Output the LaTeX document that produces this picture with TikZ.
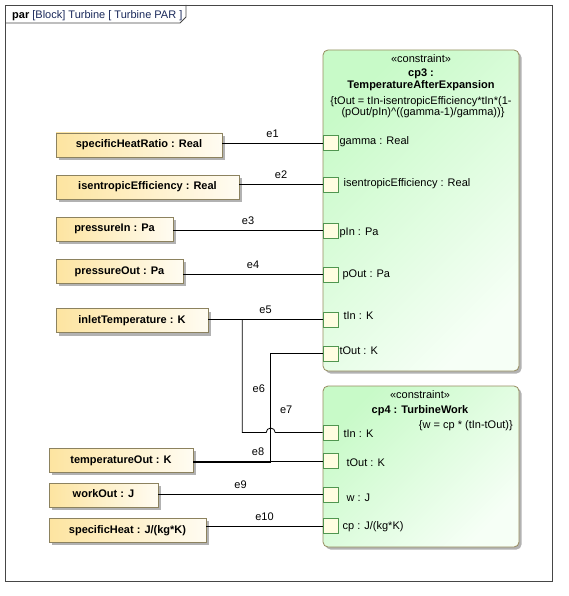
\documentclass[tikz,border=0pt]{standalone}
\usepackage{fontspec}
\setmainfont{Liberation Sans}
\usetikzlibrary{positioning,shadows,calc}

\definecolor{partfill}{RGB}{253,228,160}
\definecolor{partend}{RGB}{255,252,242}
\definecolor{partedge}{RGB}{140,130,95}
\definecolor{blockfill}{RGB}{200,250,200}
\definecolor{blockend}{RGB}{246,255,246}
\definecolor{blockedge}{RGB}{150,140,95}
\definecolor{portedge}{RGB}{80,150,80}
\definecolor{portfill}{RGB}{255,253,225}
\definecolor{framecol}{RGB}{70,70,70}
\definecolor{titlecol}{RGB}{25,40,90}

\tikzset{
  txt/.style={font=\fontsize{11}{12}\selectfont, inner sep=0pt},
  bold/.style={font=\fontsize{11}{12}\selectfont\bfseries, inner sep=0pt},
  partbox/.style={bold, draw=partedge, line width=0.8pt, left color=partfill, right color=partend,
    minimum height=24pt, text height=8pt, text depth=2.5pt,
    drop shadow={shadow xshift=3pt, shadow yshift=-3pt, fill=black!30, opacity=1}},
  cblock/.style={draw=blockedge, line width=0.8pt, rounded corners=5pt, left color=blockfill, right color=blockend,
    shading angle=45, drop shadow={shadow xshift=2.5pt, shadow yshift=-2.5pt, fill=black!30, opacity=1}},
  portbox/.style={draw=portedge, line width=0.8pt, fill=portfill, minimum size=15pt, inner sep=0pt},
  conn/.style={draw=black, line width=0.8pt}
}

\begin{document}
\begin{tikzpicture}[x=1pt, y=-1pt]
  \useasboundingbox (0,0) rectangle (568,596);
  % frame
  \draw[framecol, line width=0.8pt] (5,5) rectangle (552,581);
  \draw[framecol, line width=0.8pt] (5,23) -- (180,23) -- (186,17) -- (186,5);
  \node[txt, anchor=base west] (title) at (12,19) {\textbf{par} \textcolor{titlecol}{[Block] Turbine [ Turbine PAR ]}};

  % constraint blocks
  \node[cblock, minimum width=196pt, minimum height=321pt] (cpthree) at (421,210.5) {};
  \node[cblock, minimum width=196pt, minimum height=161pt] (cpfour) at (421,466.5) {};

  \node[txt, anchor=base] (stthree) at (421,62.5) {«constraint»};
  \node[bold, anchor=base] (namethree) at (421,77) {cp3 :};
  \node[bold, anchor=base] (typethree) at (421,88.5) {TemperatureAfterExpansion};
  \node[txt, anchor=base] (eqthree) at (421,104.5) {\{tOut = tIn-isentropicEfficiency*tIn*(1-};
  \node[txt, anchor=base] (eqthreeb) at (423,115.5) {(pOut/pIn)\^{}((gamma-1)/gamma))\}};

  \node[txt, anchor=base] (stfour) at (420,398) {«constraint»};
  \node[bold, anchor=base] (namefour) at (420,413.5) {cp4 : TurbineWork};
  \node[txt, anchor=base east] (eqfour) at (513,428.5) {\{w = cp * (tIn-tOut)\}};

  % ports
  \foreach \n/\y in {pgamma/143, peff/184.5, ppin/230.5, ppout/274.5, ptin/319.5, ptout/353.5,
                     qtin/432.5, qtout/461, qw/494.5, qcp/526}
    \node[portbox] (\n) at (330.5,\y) {};

  \foreach \p/\dx/\dy/\t in {pgamma/1/1.6/gamma : Real, peff/5/2.2/isentropicEfficiency : Real,
                             ppin/1/5.2/pIn : Pa, ppout/4/3.2/pOut : Pa, ptin/5/-0.5/tIn : K,
                             ptout/1/0.8/tOut : K, qtin/5/5.2/tIn : K, qtout/8/5/tOut : K,
                             qw/8/6.5/w : J, qcp/4/3/{cp : J/(kg*K)}}
    \node[txt, anchor=base west] (\p-lbl) at ($(\p.east)+(\dx,\dy)$) {\t};

  % parts
  \node[partbox, minimum width=166pt] (heatratio) at (139,145) {specificHeatRatio : Real};
  \node[partbox, minimum width=183pt] (isentropic) at (147.5,187.2) {isentropicEfficiency : Real};
  \node[partbox, minimum width=117pt] (pressin) at (114.5,229) {pressureIn : Pa};
  \node[partbox, minimum width=127pt] (pressout) at (119.5,271.3) {pressureOut : Pa};
  \node[partbox, minimum width=152pt] (inlettemp) at (132,320.5) {inletTemperature : K};
  \node[partbox, minimum width=144pt] (tempout) at (121,460.3) {temperatureOut : K};
  \node[partbox, minimum width=109pt] (workout) at (103.5,495) {workOut : J};
  \node[partbox, minimum width=157pt] (specheat) at (127.5,530.3) {specificHeat : J/(kg*K)};

  % connectors
  \foreach \a/\b/\e in {heatratio/pgamma/e1, isentropic/peff/e2, pressin/ppin/e3, pressout/ppout/e4,
                        inlettemp/ptin/e5, tempout/qtout/e8, workout/qw/e9, specheat/qcp/e10}
    \draw[conn] (\a.east |- \b.west) -- (\b.west) node[txt, midway, above=5pt] {\e};

  \coordinate (jsix) at (242.3,319.5);
  \coordinate (jseven) at (270.7,353.5);
  \coordinate (hop) at (jseven |- qtin.west);
  \draw[conn] (jsix) -- (jsix |- qtin.west) node[txt, pos=0.61, right=10pt] {e6}
    -- ($(hop)+(-4.5,0)$) arc (180:360:4.5) -- (qtin.west);
  \draw[conn] (ptout.west) -- (jseven) -- ($(jseven |- qtout.west)+(0,0.9)$) node[txt, pos=0.52, right=9pt] {e7}
    -- ($(tempout.east |- qtout.west)+(0,0.9)$);
\end{tikzpicture}
\end{document}
